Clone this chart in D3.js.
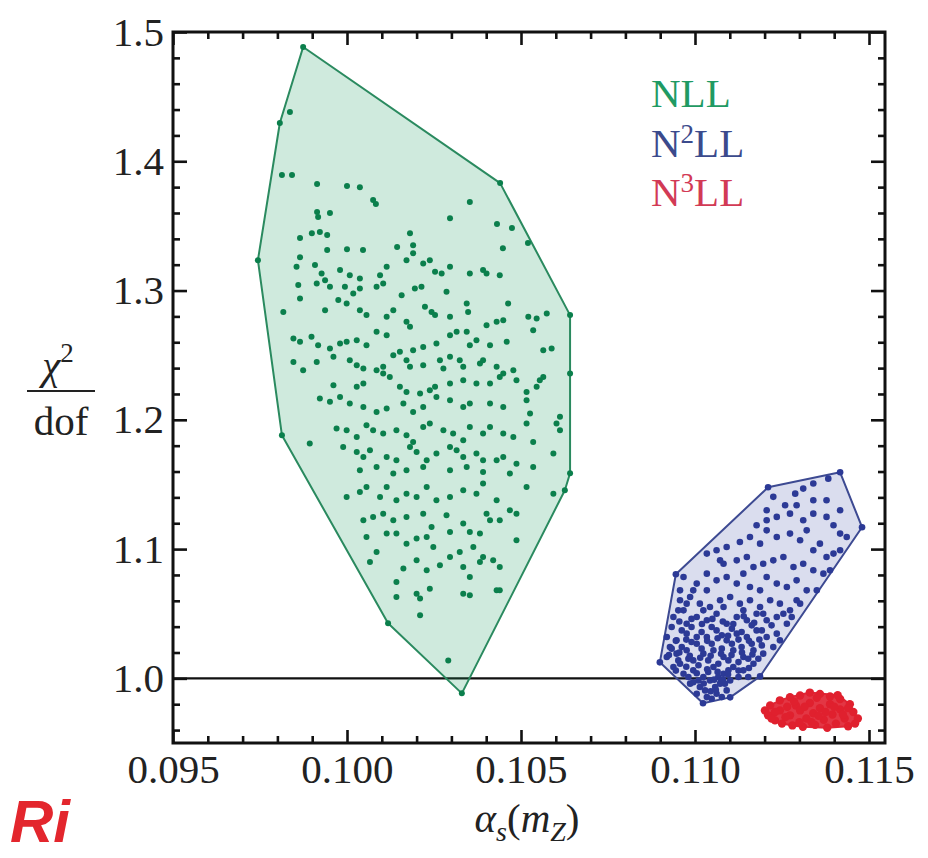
<!DOCTYPE html>
<html><head><meta charset="utf-8">
<script src="https://cdn.jsdelivr.net/npm/d3@7"></script>
<style>body{margin:0;background:#fff}svg{display:block}</style>
</head><body>
<script>
// ---------- DATA ----------
const xTicks = [0.095, 0.100, 0.105, 0.110, 0.115];
const xTickLabels = ["0.095", "0.100", "0.105", "0.110", "0.115"];
const yTicks = [1.0, 1.1, 1.2, 1.3, 1.4, 1.5];
const yTickLabels = ["1.0", "1.1", "1.2", "1.3", "1.4", "1.5"];
const seriesNames = ["NLL", "N2LL", "N3LL"];
const referenceY = 1.0;

const nllPoints = [
[0.09874,1.4884],[0.10440,1.3831],[0.10641,1.2810],[0.10641,1.1587],[0.10626,1.1455],[0.10330,0.9884],[0.10118,1.0426],[0.09813,1.1881],[0.09744,1.3235],[0.09807,1.4296],
[0.09836,1.4381],[0.09813,1.3893],[0.09842,1.3893],[0.09914,1.3824],[0.10000,1.3808],[0.10037,1.3800],[0.10075,1.3700],[0.10083,1.3669],[0.10353,1.3684],[0.10296,1.3560],
[0.09951,1.3599],[0.09914,1.3607],[0.09917,1.3568],[0.10431,1.3514],[0.10474,1.3483],[0.09865,1.3406],[0.09899,1.3444],[0.09922,1.3452],[0.09943,1.3429],[0.10181,1.3444],
[0.10448,1.3328],[0.10520,1.3367],[0.10144,1.3336],[0.10190,1.3351],[0.10190,1.3289],[0.09943,1.3313],[0.10000,1.3320],[0.10046,1.3313],[0.09865,1.3258],
[0.09855,1.3184],[0.09908,1.3197],[0.09927,1.3132],[0.09937,1.3080],[0.09980,1.3158],[0.10008,1.3119],[0.10037,1.3093],[0.10095,1.3119],[0.10114,1.3184],[0.10171,1.3235],
[0.10219,1.3210],[0.10253,1.3145],[0.10272,1.3132],[0.10296,1.3184],[0.10353,1.3132],[0.10391,1.3158],[0.10401,1.3132],[0.10439,1.3119],[0.10238,1.3235],
[0.09860,1.3042],[0.09913,1.3055],[0.09951,1.3029],[0.09994,1.3029],[0.10018,1.2977],[0.10037,1.3016],[0.10085,1.3029],[0.10104,1.3055],[0.10157,1.2964],[0.10195,1.3016],
[0.10214,1.3029],[0.10286,1.2990],[0.10344,1.2900],[0.10348,1.2835],[0.10463,1.2900],[0.09865,1.2939],[0.09975,1.2926],[0.09999,1.2900],[0.10224,1.2874],[0.10243,1.2835],[0.10253,1.2810],
[0.09817,1.2835],[0.09937,1.2848],[0.10037,1.2848],[0.10056,1.2810],[0.10133,1.2848],[0.10171,1.2758],[0.10181,1.2719],[0.10114,1.2797],[0.10296,1.2797],[0.10401,1.2732],
[0.10430,1.2758],[0.10449,1.2771],[0.10521,1.2797],[0.10545,1.2784],[0.10574,1.2822],[0.10535,1.2693],
[0.09846,1.2629],[0.09865,1.2603],[0.09898,1.2642],[0.09917,1.2577],[0.09951,1.2552],[0.09980,1.2590],[0.09999,1.2603],[0.10028,1.2616],[0.10056,1.2577],[0.10085,1.2681],
[0.10114,1.2655],[0.10152,1.2526],[0.10190,1.2539],[0.10219,1.2564],[0.10257,1.2590],[0.10296,1.2655],[0.10315,1.2681],[0.10344,1.2681],[0.10372,1.2616],[0.10353,1.2577],
[0.10411,1.2577],[0.10459,1.2603],[0.10564,1.2539],[0.10588,1.2552],
[0.09846,1.2448],[0.09874,1.2384],[0.09913,1.2448],[0.09961,1.2487],[0.10008,1.2461],[0.10028,1.2423],[0.10047,1.2397],[0.10085,1.2384],[0.10104,1.2410],[0.10133,1.2500],
[0.10171,1.2461],[0.10181,1.2410],[0.10219,1.2423],[0.10267,1.2461],[0.10277,1.2397],[0.10296,1.2487],[0.10324,1.2461],[0.10334,1.2410],[0.10382,1.2435],[0.10391,1.2461],
[0.10430,1.2410],[0.10449,1.2358],[0.10478,1.2384],[0.10554,1.2306],[0.10641,1.2358],
[0.09961,1.2268],[0.10028,1.2255],[0.10047,1.2281],[0.10104,1.2358],[0.10123,1.2332],[0.10152,1.2255],[0.10171,1.2216],[0.10210,1.2203],[0.10238,1.2229],[0.10253,1.2255],
[0.10296,1.2281],[0.10334,1.2306],[0.10372,1.2281],[0.10411,1.2281],[0.10439,1.2332],[0.10487,1.2306],[0.10516,1.2216],[0.10545,1.2255],[0.10564,1.2332],
[0.09922,1.2164],[0.09951,1.2139],[0.09980,1.2177],[0.10008,1.2126],[0.10047,1.2100],[0.10085,1.2061],[0.10114,1.2087],[0.10162,1.2126],[0.10190,1.2061],[0.10219,1.2100],
[0.10257,1.2177],[0.10296,1.2152],[0.10334,1.2100],[0.10353,1.2126],[0.10411,1.2126],[0.10449,1.2100],[0.10516,1.2152],[0.10526,1.2048],[0.10612,1.2023],[0.10602,1.1971],
[0.09893,1.1816],[0.09970,1.1932],[0.09999,1.1919],[0.10028,1.1868],[0.10056,1.1958],[0.10075,1.1919],[0.10104,1.1894],[0.10142,1.1919],[0.10171,1.1881],[0.10190,1.1829],
[0.10219,1.1945],[0.10238,1.1971],[0.10277,1.1919],[0.10305,1.1894],[0.10334,1.1842],[0.10353,1.1945],[0.10391,1.1894],[0.10411,1.1945],[0.10449,1.1894],[0.10478,1.1868],
[0.10516,1.1971],[0.10535,1.1829],[0.10612,1.1919],
[0.09989,1.1790],[0.10028,1.1752],[0.10047,1.1713],[0.10066,1.1764],[0.10114,1.1713],[0.10142,1.1687],[0.10181,1.1790],[0.10200,1.1752],[0.10229,1.1687],[0.10257,1.1739],
[0.10296,1.1790],[0.10315,1.1764],[0.10334,1.1713],[0.10372,1.1739],[0.10391,1.1687],[0.10430,1.1687],[0.10449,1.1713],[0.10487,1.1661],[0.10535,1.1635],[0.10593,1.1739],
[0.10037,1.1610],[0.10085,1.1635],[0.10133,1.1584],[0.10171,1.1610],[0.10219,1.1635],[0.10296,1.1610],[0.10344,1.1635],[0.10391,1.1597],[0.10468,1.1584],
[0.09999,1.1403],[0.10037,1.1442],[0.10056,1.1481],[0.10095,1.1403],[0.10114,1.1481],[0.10142,1.1378],[0.10171,1.1429],[0.10200,1.1403],[0.10229,1.1481],[0.10257,1.1378],
[0.10296,1.1403],[0.10334,1.1455],[0.10372,1.1429],[0.10391,1.1507],[0.10430,1.1378],[0.10468,1.1300],[0.10487,1.1274],[0.10516,1.1481],[0.10593,1.1429],
[0.10047,1.1223],[0.10075,1.1249],[0.10104,1.1274],[0.10133,1.1223],[0.10171,1.1249],[0.10219,1.1274],[0.10243,1.1171],[0.10286,1.1261],[0.10296,1.1132],[0.10334,1.1197],
[0.10353,1.1132],[0.10382,1.1120],[0.10401,1.1274],[0.10411,1.1223],[0.10439,1.1223],[0.10487,1.1068],
[0.10056,1.1094],[0.10085,1.0978],[0.10114,1.1120],[0.10142,1.1120],[0.10171,1.1042],[0.10200,1.1081],[0.10229,1.1094],[0.10248,1.1016],[0.10296,1.0939],[0.10324,1.0978],
[0.10363,1.1016],[0.10382,1.0900],[0.10391,1.0939],[0.10420,1.0913],[0.10439,1.0862],
[0.10066,1.0900],[0.10142,1.0746],[0.10162,1.0849],[0.10200,1.0913],[0.10229,1.0836],[0.10267,1.0875],[0.10334,1.0862],[0.10353,1.0784],[0.10430,1.0681],
[0.10142,1.0629],[0.10200,1.0655],[0.10210,1.0617],[0.10238,1.0694],[0.10334,1.0655],[0.10353,1.0642],[0.10439,1.0681],[0.10210,1.0488],[0.10291,1.0139]
];

const n2llPoints = [
[0.11210,1.1478],[0.11417,1.1594],[0.11480,1.1169],[0.11187,1.0015],[0.11101,0.9853],[0.11023,0.9807],[0.10899,1.0124],[0.10945,1.0805],
[0.11383,1.1545],[0.11340,1.1507],[0.11311,1.1468],[0.11288,1.1429],[0.11225,1.1404],[0.11259,1.1339],[0.11292,1.1339],[0.11340,1.1378],[0.11378,1.1378],[0.11417,1.1300],
[0.11206,1.1300],[0.11177,1.1184],[0.11206,1.1223],[0.11235,1.1249],[0.11273,1.1274],[0.11311,1.1223],[0.11340,1.1274],[0.11378,1.1249],[0.11398,1.1184],[0.11417,1.1120],[0.11436,1.1094],
[0.11062,1.0991],[0.11091,1.1016],[0.11129,1.1055],[0.11158,1.1094],[0.11187,1.1042],[0.11206,1.1145],[0.11235,1.1094],[0.11273,1.1120],[0.11302,1.1068],[0.11321,1.1145],
[0.11340,1.0991],[0.11359,1.1042],[0.11378,1.0939],[0.11398,1.0965],[0.11417,1.0991],
[0.11082,1.0887],[0.11120,1.0913],[0.11149,1.0939],[0.11168,1.0862],[0.11196,1.0887],[0.11225,1.0913],[0.11254,1.0939],[0.11283,1.0862],[0.11311,1.0887],[0.11340,1.0836],
[0.11369,1.0810],[0.11388,1.0836],[0.11034,1.0965],
[0.11005,1.0733],[0.11034,1.0681],[0.11062,1.0758],[0.11091,1.0784],[0.11120,1.0733],[0.11139,1.0810],[0.11158,1.0707],[0.11187,1.0681],[0.11206,1.0784],[0.11235,1.0733],
[0.11264,1.0707],[0.11292,1.0758],[0.11321,1.0681],[0.11350,1.0681],[0.11302,1.0578],
[0.10957,1.0604],[0.10986,1.0629],[0.11014,1.0578],[0.11043,1.0552],[0.11072,1.0604],[0.11101,1.0629],[0.11129,1.0578],[0.11158,1.0604],[0.11187,1.0552],[0.11216,1.0604],
[0.11244,1.0578],[0.11273,1.0526],[0.11292,1.0604],
[0.10938,1.0475],[0.10976,1.0423],[0.11005,1.0475],[0.11034,1.0449],[0.11062,1.0500],[0.11091,1.0423],[0.11120,1.0475],[0.11149,1.0449],[0.11177,1.0500],[0.11206,1.0449],
[0.11235,1.0475],[0.11264,1.0423],[0.11278,1.0475],
[0.10919,1.0320],[0.10947,1.0294],[0.10976,1.0346],[0.11005,1.0268],[0.11034,1.0320],[0.11062,1.0371],[0.11091,1.0294],[0.11120,1.0346],[0.11149,1.0320],[0.11177,1.0371],
[0.11206,1.0320],[0.11235,1.0346],[0.11244,1.0294],
[0.10919,1.0165],[0.10947,1.0191],[0.10976,1.0217],[0.10995,1.0139],[0.11024,1.0191],[0.11053,1.0217],[0.11082,1.0165],[0.11110,1.0217],[0.11139,1.0165],[0.11168,1.0217],
[0.11196,1.0191],[0.11225,1.0242],
[0.10938,1.0088],[0.10967,1.0036],[0.10995,1.0062],[0.11024,1.0010],[0.11053,1.0088],[0.11082,1.0036],[0.11110,1.0088],[0.11139,1.0062],[0.11168,1.0113],
[0.10986,0.9959],[0.11014,0.9933],[0.11043,0.9984],[0.11072,0.9959],[0.11101,0.9984],[0.11034,0.9855],[0.11062,0.9881],[0.11091,0.9907],[0.11005,0.9881],
[0.10957,1.0113],[0.10928,1.0242],[0.10967,1.0526],[0.10995,1.0681],[0.10957,1.0681],[0.11034,1.0810],[0.11072,1.0913],[0.10967,1.0784],
[0.10933,1.0397],[0.10962,1.0371],[0.10990,1.0397],[0.11019,1.0359],[0.11048,1.0397],[0.11077,1.0333],[0.11106,1.0384],[0.11134,1.0359],[0.11163,1.0410],[0.11192,1.0371],[0.11220,1.0410],
[0.10933,1.0230],[0.10962,1.0242],[0.10990,1.0281],[0.11019,1.0230],[0.11048,1.0268],[0.11077,1.0230],[0.11106,1.0268],[0.11134,1.0242],[0.11163,1.0268],[0.11192,1.0255],
[0.10952,1.0139],[0.10981,1.0152],[0.11010,1.0101],[0.11038,1.0139],[0.11067,1.0113],[0.11096,1.0139],[0.11125,1.0126],[0.11153,1.0152],[0.11182,1.0152],
[0.10981,1.0010],[0.11010,0.9984],[0.11038,1.0049],[0.11067,1.0010],[0.11096,1.0062],[0.11125,1.0010],[0.11153,1.0010],
[0.11029,0.9907],[0.11058,0.9933],[0.11086,0.9959],[0.11048,0.9842],[0.11077,0.9855],
[0.10976,1.0578],[0.10952,1.0526],[0.11024,1.0526],[0.11082,1.0552],[0.11139,1.0526],[0.11196,1.0500],[0.11254,1.0500],
[0.10925,1.0180],[0.10955,1.0200],[0.10985,1.0175],[0.11015,1.0160],[0.11045,1.0175],[0.11075,1.0190],[0.11105,1.0180],[0.11135,1.0200],[0.11165,1.0185],
[0.10945,1.0060],[0.10975,1.0090],[0.11005,1.0040],[0.11035,1.0070],[0.11065,1.0050],[0.11095,1.0030],[0.11125,1.0060],[0.11155,1.0080],
[0.10995,0.9970],[0.11025,0.9960],[0.11055,0.9990],[0.11075,0.9985],[0.11080,0.9990],[0.11045,0.9900],[0.11060,0.9910],
[0.10945,1.0290],[0.10975,1.0300],[0.11005,1.0320],[0.11035,1.0290],[0.11065,1.0310],[0.11095,1.0330],[0.11125,1.0300],[0.11155,1.0290],[0.11185,1.0300],
[0.10955,1.0440],[0.10990,1.0460],[0.11020,1.0420],[0.11050,1.0460],[0.11080,1.0440],[0.11110,1.0420],[0.11140,1.0480],[0.11170,1.0430]
];

const n3llPoints = [
[0.11201,0.9752],[0.11210,0.9714],[0.11216,0.9791],[0.11230,0.9675],[0.11244,0.9830],[0.11244,0.9752],[0.11250,0.9650],[0.11273,0.9855],[0.11273,0.9714],[0.11280,0.9636],
[0.11290,0.9790],[0.11302,0.9868],[0.11302,0.9752],[0.11310,0.9625],[0.11320,0.9690],[0.11330,0.9890],[0.11330,0.9810],[0.11340,0.9730],[0.11345,0.9640],[0.11359,0.9880],
[0.11359,0.9770],[0.11370,0.9680],[0.11380,0.9618],[0.11388,0.9860],[0.11388,0.9800],[0.11395,0.9720],[0.11405,0.9650],[0.11417,0.9840],[0.11417,0.9760],[0.11430,0.9690],
[0.11440,0.9630],[0.11445,0.9800],[0.11455,0.9740],[0.11468,0.9690],[0.11460,0.9650],[0.11230,0.9740],[0.11260,0.9700],[0.11285,0.9820],[0.11315,0.9780],[0.11350,0.9850],
[0.11375,0.9740],[0.11400,0.9780],[0.11425,0.9720],[0.11335,0.9660],[0.11300,0.9660],[0.11410,0.9870],[0.11220,0.9690],[0.11265,0.9780],[0.11355,0.9710],[0.11440,0.9770]
];

// ---------- CHART ----------
const W = 928, H = 858;
const M = {left: 173, right: 885, top: 32, bottom: 743};
const serif = "'Liberation Serif','DejaVu Serif',serif";

const svg = d3.select("body").append("svg").attr("width", W).attr("height", H)
  .style("background", "#fff");

const x = d3.scaleLinear().domain([0.095, 0.11546]).range([M.left, M.right]);
const y = d3.scaleLinear().domain([0.95, 1.5]).range([M.bottom, M.top]);

const styles = [
  {pts: nllPoints, fill: "#1a9a60", fop: 0.21, stroke: "#2a8a5f", dot: "#0b7f4c", r: 3.0},
  {pts: n2llPoints, fill: "#3040a0", fop: 0.18, stroke: "#3d4a92", dot: "#2c3a96", r: 3.3},
  {pts: n3llPoints, fill: "#e02030", fop: 0.9, stroke: "#e02535", dot: "#e0202e", r: 4.2}
];

// reference line at 1.0
svg.append("line")
  .attr("x1", M.left).attr("x2", M.right)
  .attr("y1", y(referenceY)).attr("y2", y(referenceY))
  .attr("stroke", "#111").attr("stroke-width", 2.2);

// hulls and points
styles.forEach(s => {
  const hull = d3.polygonHull(s.pts.map(d => [x(d[0]), y(d[1])]));
  svg.append("path")
    .attr("d", "M" + hull.join("L") + "Z")
    .attr("fill", s.fill).attr("fill-opacity", s.fop)
    .attr("stroke", s.stroke).attr("stroke-width", 2).attr("stroke-linejoin", "round");
  svg.append("g").selectAll("circle").data(s.pts).join("circle")
    .attr("cx", d => x(d[0])).attr("cy", d => y(d[1]))
    .attr("r", s.r).attr("fill", s.dot);
});

// axes (ticks inside on all four sides)
const xMinor = d3.range(95, 116).map(v => v / 1000).filter(v => !xTicks.some(t => Math.abs(t - v) < 1e-9));
const yMinor = d3.range(48, 76).map(v => v / 50).filter(v => !yTicks.some(t => Math.abs(t - v) < 1e-9));

function styleAxis(g) {
  g.select(".domain").remove();
  g.selectAll(".tick line").attr("stroke", "#111").attr("stroke-width", 2.6);
  g.selectAll("text").attr("font-family", serif).attr("font-size", 41).attr("fill", "#222");
}

svg.append("g").attr("transform", `translate(0,${M.bottom})`)
  .call(d3.axisBottom(x).tickValues(xTicks).tickSize(-13).tickPadding(11)
    .tickFormat((d, i) => xTickLabels[i])).call(styleAxis);
svg.append("g").attr("transform", `translate(0,${M.bottom})`)
  .call(d3.axisBottom(x).tickValues(xMinor).tickSize(-7).tickFormat("")).call(styleAxis);
svg.append("g").attr("transform", `translate(0,${M.top})`)
  .call(d3.axisTop(x).tickValues(xTicks).tickSize(-13).tickFormat("")).call(styleAxis);
svg.append("g").attr("transform", `translate(0,${M.top})`)
  .call(d3.axisTop(x).tickValues(xMinor).tickSize(-7).tickFormat("")).call(styleAxis);

svg.append("g").attr("transform", `translate(${M.left},0)`)
  .call(d3.axisLeft(y).tickValues(yTicks).tickSize(-14).tickPadding(9)
    .tickFormat((d, i) => yTickLabels[i])).call(styleAxis);
svg.append("g").attr("transform", `translate(${M.left},0)`)
  .call(d3.axisLeft(y).tickValues(yMinor).tickSize(-7).tickFormat("")).call(styleAxis);
svg.append("g").attr("transform", `translate(${M.right},0)`)
  .call(d3.axisRight(y).tickValues(yTicks).tickSize(-14).tickFormat("")).call(styleAxis);
svg.append("g").attr("transform", `translate(${M.right},0)`)
  .call(d3.axisRight(y).tickValues(yMinor).tickSize(-7).tickFormat("")).call(styleAxis);

// frame
svg.append("rect")
  .attr("x", M.left).attr("y", M.top)
  .attr("width", M.right - M.left).attr("height", M.bottom - M.top)
  .attr("fill", "none").attr("stroke", "#111").attr("stroke-width", 3);

// legend
const legendColors = ["#1f9a63", "#3b4a8c", "#d23a55"];
const legendBase = [107, 157, 206];
const legendSup = ["", "2", "3"];
seriesNames.forEach((name, i) => {
  const t = svg.append("text").attr("x", 651).attr("y", legendBase[i])
    .attr("font-family", serif).attr("font-size", 41).attr("fill", legendColors[i]);
  t.append("tspan").text("N");
  if (legendSup[i]) t.append("tspan").attr("dy", -14).attr("font-size", 27).text(legendSup[i]);
  t.append("tspan").attr("dy", legendSup[i] ? 14 : 0).text("LL");
});

// y-axis label: chi^2 / dof
const yl = svg.append("text").attr("x", 58).attr("y", 379).attr("text-anchor", "middle")
  .attr("font-family", serif).attr("font-size", 41).attr("fill", "#222");
yl.append("tspan").attr("font-style", "italic").text("χ");
yl.append("tspan").attr("dy", -17).attr("font-size", 27).text("2");
svg.append("line").attr("x1", 27).attr("x2", 95).attr("y1", 391).attr("y2", 391)
  .attr("stroke", "#222").attr("stroke-width", 2);
svg.append("text").attr("x", 61).attr("y", 435).attr("text-anchor", "middle")
  .attr("font-family", serif).attr("font-size", 41).attr("fill", "#222").text("dof");

// x-axis label: alpha_s(m_Z)
const xl = svg.append("text").attr("x", 527).attr("y", 832).attr("text-anchor", "middle")
  .attr("font-family", serif).attr("font-size", 41).attr("fill", "#222");
xl.append("tspan").attr("font-style", "italic").text("α");
xl.append("tspan").attr("font-style", "italic").attr("font-size", 28).attr("dy", 9).text("s");
xl.append("tspan").attr("dy", -9).text("(");
xl.append("tspan").attr("font-style", "italic").text("m");
xl.append("tspan").attr("font-style", "italic").attr("font-size", 28).attr("dy", 9).text("Z");
xl.append("tspan").attr("dy", -9).text(")");

// red logo fragment in the corner
svg.append("text").attr("x", 10).attr("y", 842)
  .attr("font-family", "'Liberation Sans',sans-serif").attr("font-weight", "bold")
  .attr("font-style", "italic").attr("font-size", 60).attr("fill", "#e3262d").text("Ri");
</script>
</body></html>
